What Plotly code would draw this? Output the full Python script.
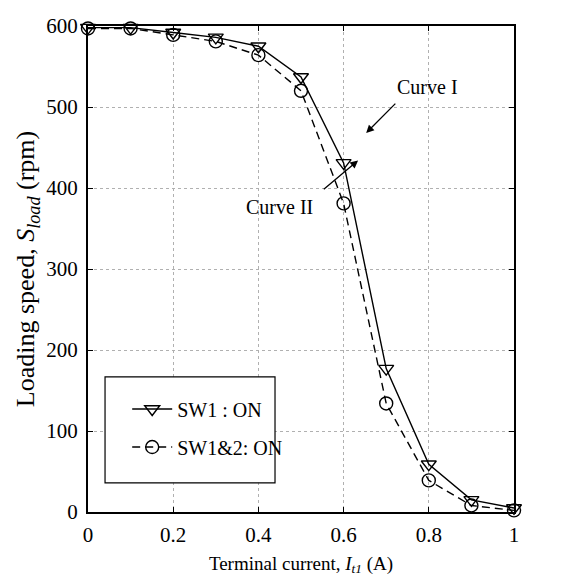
import plotly.graph_objects as go

_SERIF = "Liberation Serif, Times New Roman, serif"
_FONT = dict(family=_SERIF, color="black")

current = [0, 0.1, 0.2, 0.3, 0.4, 0.5, 0.6, 0.7, 0.8, 0.9, 1.0]
speed_sw1 = [598, 598, 592, 586, 575, 537, 431, 177, 59, 15, 5]
speed_sw12 = [597, 597, 589, 581, 564, 520, 381, 134, 39, 8, 2]

x_ticks = [0, 0.2, 0.4, 0.6, 0.8, 1.0]
x_labels = ["0", "0.2", "0.4", "0.6", "0.8", "1"]
y_ticks = [0, 100, 200, 300, 400, 500, 600]

fig = go.Figure()
fig.add_trace(go.Scatter(
    x=current, y=speed_sw1, name="SW1 : ON", mode="lines+markers",
    legendgroup="a",
    line=dict(color="black", width=1.4),
    marker=dict(symbol="triangle-down-open", size=13, color="black",
                line=dict(width=1.4)),
    cliponaxis=False,
))
fig.add_trace(go.Scatter(
    x=current, y=speed_sw12, name="SW1&2: ON", mode="lines+markers",
    legendgroup="b",
    line=dict(color="black", width=1.4, dash="8px,5px"),
    marker=dict(symbol="circle-open", size=13, color="black",
                line=dict(width=1.4)),
    cliponaxis=False,
))

# arrows pointing at the curves
fig.add_annotation(x=0.653, y=468, ax=0.725, ay=506, axref="x", ayref="y",
                   xref="x", yref="y", text="", showarrow=True,
                   arrowhead=2, arrowsize=1.2, arrowwidth=1.3, arrowcolor="black")
fig.add_annotation(x=0.634, y=434, ax=0.55, ay=397, axref="x", ayref="y",
                   xref="x", yref="y", text="", showarrow=True,
                   arrowhead=2, arrowsize=1.2, arrowwidth=1.3, arrowcolor="black")
fig.add_annotation(x=0.798, y=525, xref="x", yref="y", text="Curve I",
                   showarrow=False, font=dict(family=_SERIF, size=20))
fig.add_annotation(x=0.45, y=377, xref="x", yref="y", text="Curve II",
                   showarrow=False, font=dict(family=_SERIF, size=20))

# legend frame (bigger than plotly's own legend border)
fig.add_shape(type="rect", xref="paper", yref="paper",
              x0=0.04, x1=0.439, y0=0.06, y1=0.278,
              line=dict(color="black", width=1.2), fillcolor="white",
              layer="above")

axis_common = dict(
    showline=True, linecolor="black", linewidth=2, mirror="ticks",
    ticks="inside", ticklen=5, tickcolor="black",
    showgrid=True, gridcolor="#b0b0b0", griddash="dot", gridwidth=1,
    zeroline=False, automargin=False,
    tickfont=dict(family=_SERIF, size=21, color="black"),
)

fig.update_xaxes(
    range=[0, 1], tickvals=x_ticks, ticktext=x_labels, ticklabelstandoff=3,
    title=dict(text="Terminal current, <i>I</i><sub><i>t1</i></sub> (A)",
               font=dict(family=_SERIF, size=19), standoff=10),
    **axis_common,
)
fig.update_yaxes(
    range=[0, 600], tickvals=y_ticks, ticklabelstandoff=4,
    title=dict(text="Loading speed, <i>S</i><sub><i>load</i></sub> (rpm)",
               font=dict(family=_SERIF, size=26), standoff=4),
    **axis_common,
)

# page body has an 8px margin, so the figure is a little smaller
fig.update_layout(
    width=577, height=572,
    font=_FONT,
    plot_bgcolor="white", paper_bgcolor="white",
    margin=dict(l=80, r=71, t=18, b=68),
    legend=dict(
        x=0.092, y=0.252, xanchor="left", yanchor="top",
        borderwidth=0, bgcolor="rgba(0,0,0,0)",
        font=dict(family=_SERIF, size=20), itemwidth=40, tracegroupgap=9,
    ),
)

fig.write_html("out.html")
